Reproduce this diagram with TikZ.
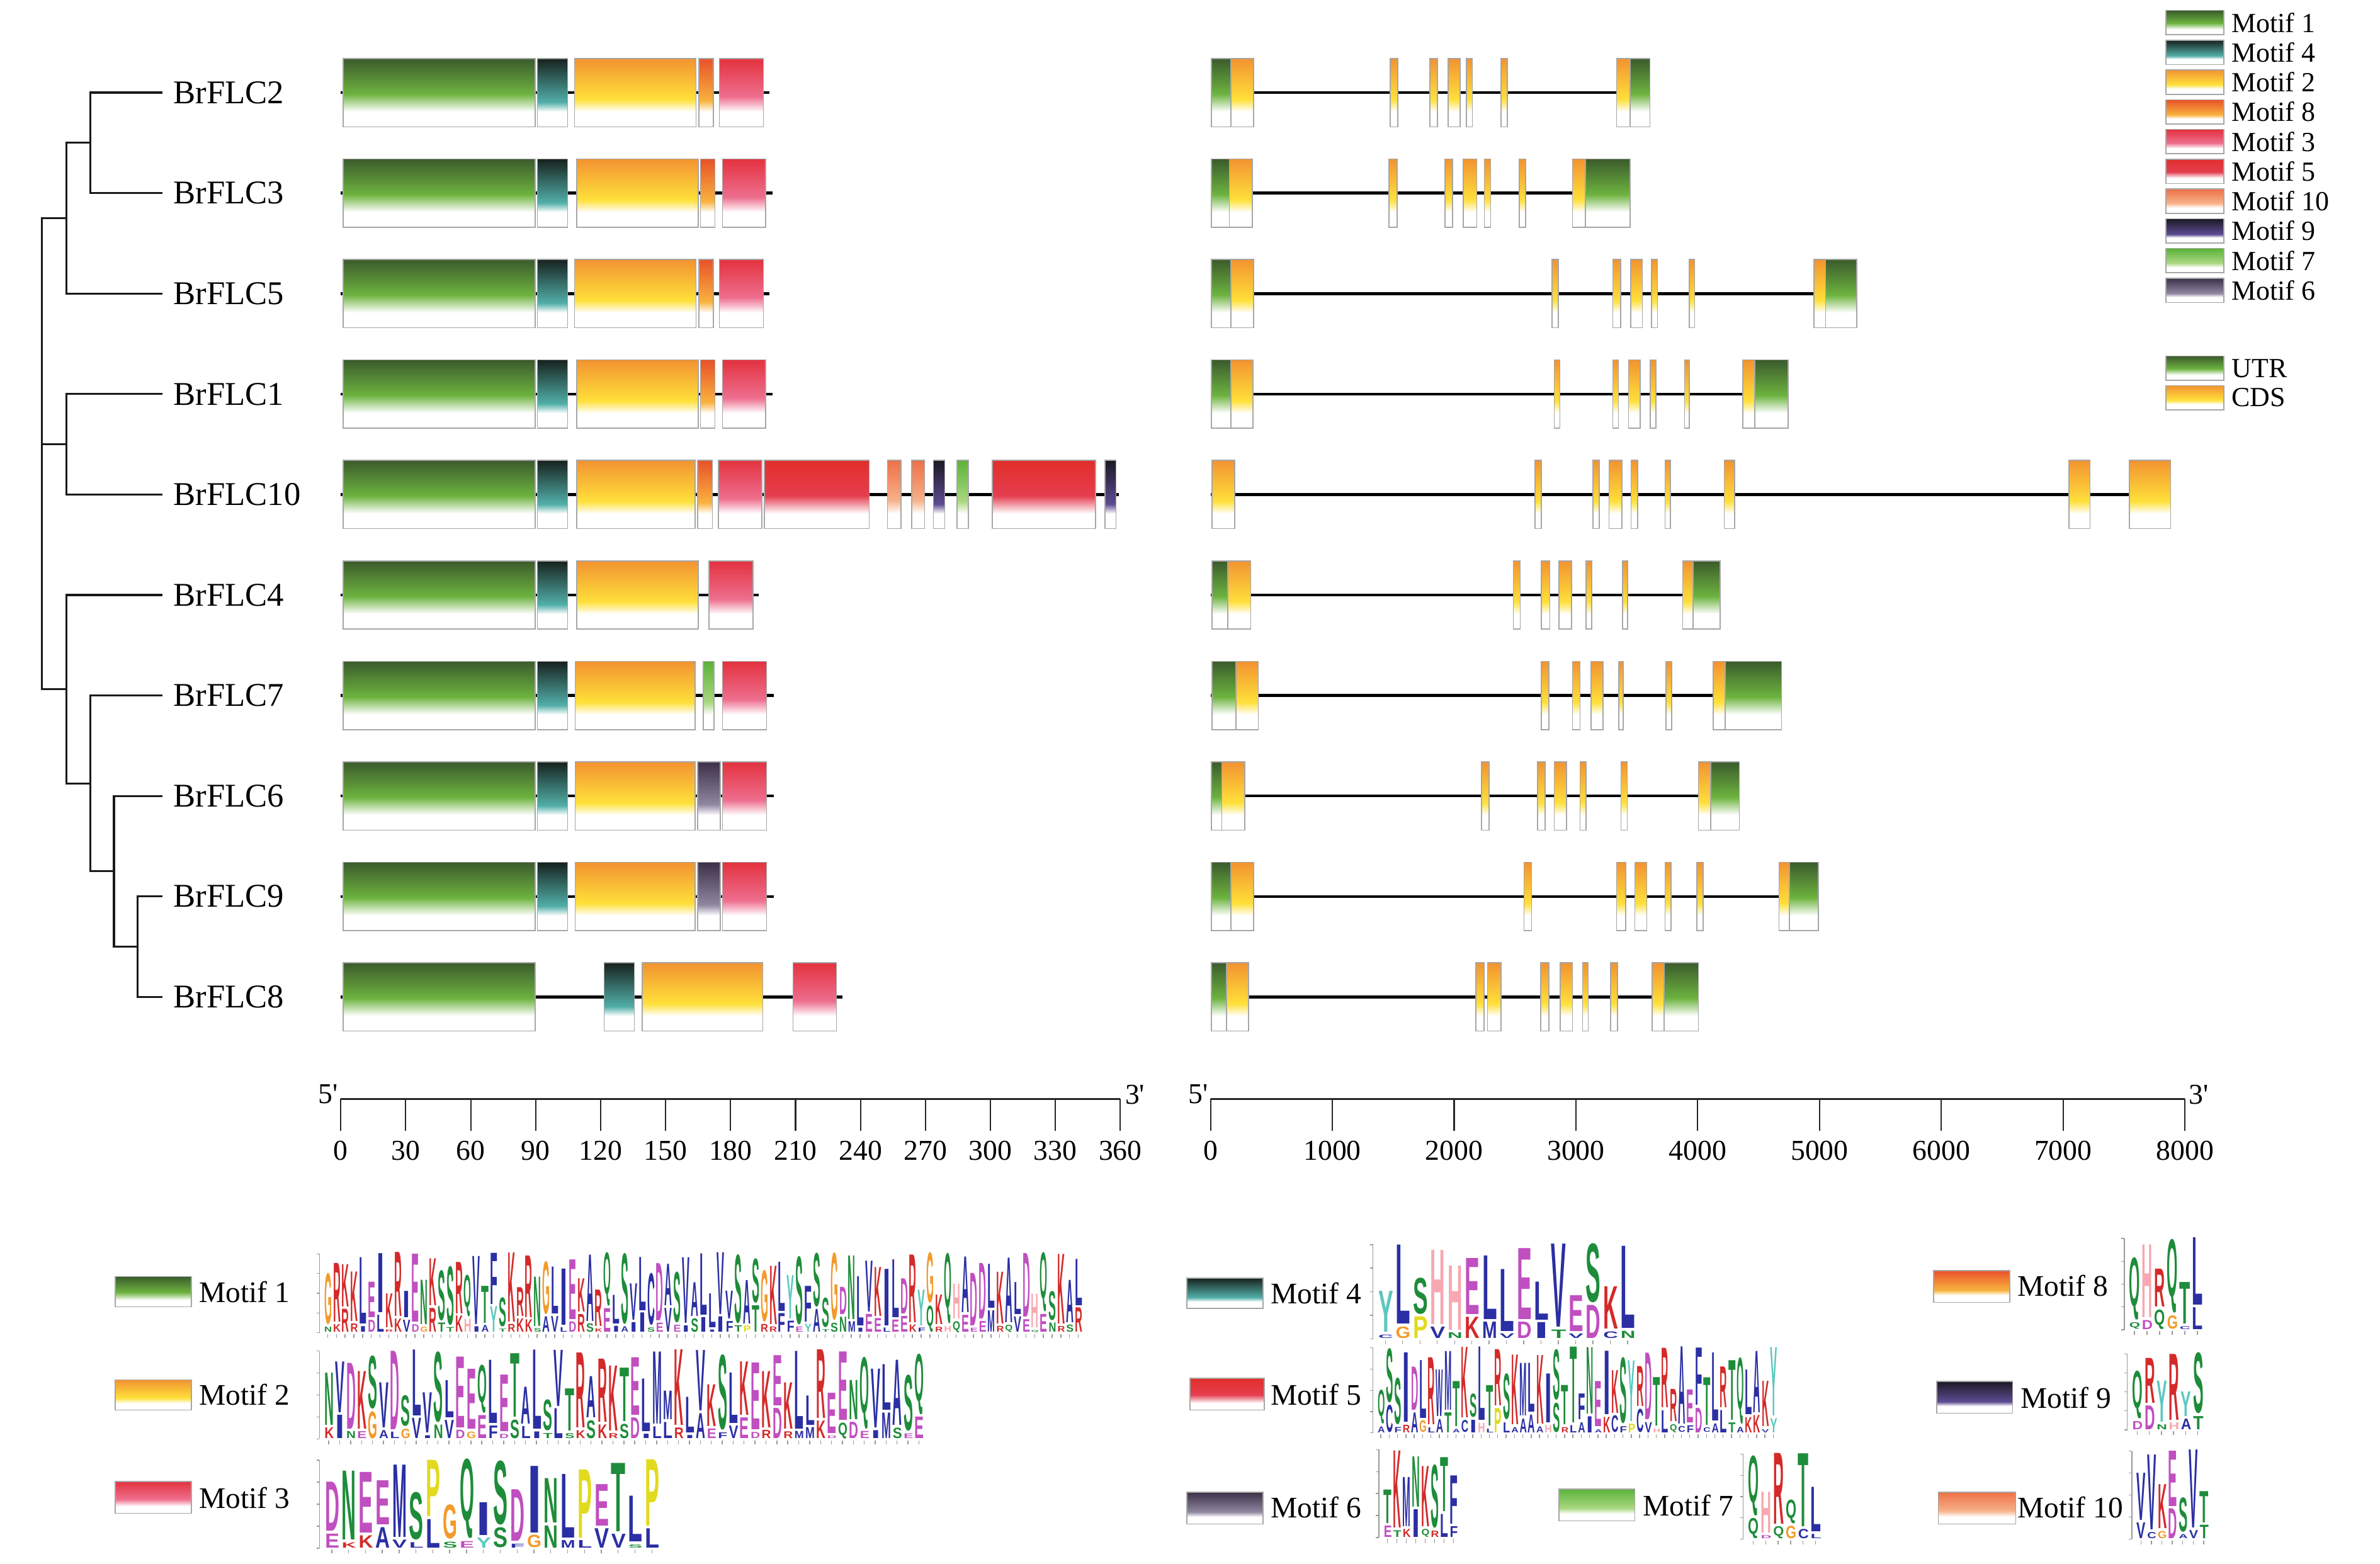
\documentclass[tikz,border=0pt]{standalone}
\usepackage{fontspec}
\setmainfont{Liberation Serif}
\newfontfamily\logofont{Liberation Sans}
\usepackage{graphicx}
\usepackage{tikz}

% motif colours (top / middle of the fade)
\definecolor{m1top}{HTML}{3B5B2C}\definecolor{m1mid}{HTML}{6DB33F}
\definecolor{m4top}{HTML}{17221E}\definecolor{m4mid}{HTML}{52AEA8}
\definecolor{m2top}{HTML}{F29331}\definecolor{m2mid}{HTML}{FFE03A}
\definecolor{m8top}{HTML}{E8512A}\definecolor{m8mid}{HTML}{F9B23D}
\definecolor{m3top}{HTML}{E3323F}\definecolor{m3mid}{HTML}{EE6E8E}
\definecolor{m5top}{HTML}{E22E2A}\definecolor{m5mid}{HTML}{E53E50}
\definecolor{m10top}{HTML}{EE7047}\definecolor{m10mid}{HTML}{F7B088}
\definecolor{m9top}{HTML}{1C1922}\definecolor{m9mid}{HTML}{5C4C92}
\definecolor{m7top}{HTML}{5BB23A}\definecolor{m7mid}{HTML}{AAD780}
\definecolor{m6top}{HTML}{3D3048}\definecolor{m6mid}{HTML}{8F86A0}

% logo letter colours
\definecolor{lgblue}{HTML}{2B2FA3}\definecolor{lggreen}{HTML}{1E8C3A}
\definecolor{lgmag}{HTML}{C04FC0}\definecolor{lgred}{HTML}{D42A2A}
\definecolor{lgpink}{HTML}{F7A8B0}\definecolor{lgorange}{HTML}{F39A2B}
\definecolor{lgyellow}{HTML}{E2DA1E}\definecolor{lgturq}{HTML}{5CC8BE}
\colorlet{aaA}{lgblue}\colorlet{aaC}{lgblue}\colorlet{aaF}{lgblue}\colorlet{aaI}{lgblue}
\colorlet{aaL}{lgblue}\colorlet{aaM}{lgblue}\colorlet{aaV}{lgblue}\colorlet{aaW}{lgblue}
\colorlet{aaN}{lggreen}\colorlet{aaQ}{lggreen}\colorlet{aaS}{lggreen}\colorlet{aaT}{lggreen}
\colorlet{aaD}{lgmag}\colorlet{aaE}{lgmag}\colorlet{aaK}{lgred}\colorlet{aaR}{lgred}
\colorlet{aaH}{lgpink}\colorlet{aaG}{lgorange}\colorlet{aaP}{lgyellow}\colorlet{aaY}{lgturq}

\newcommand{\motifshading}[4]{\pgfdeclareverticalshading{#1}{100bp}{color(0bp)=(white); color(36bp)=(white); color(#4bp)=(#3); color(75bp)=(#2); color(100bp)=(#2)}}
\motifshading{mot1}{m1top}{m1mid}{49}
\motifshading{mot4}{m4top}{m4mid}{43}
\motifshading{mot2}{m2top}{m2mid}{45}
\motifshading{mot8}{m8top}{m8mid}{44}
\motifshading{mot3}{m3top}{m3mid}{47}
\motifshading{mot5}{m5top}{m5mid}{49}
\motifshading{mot10}{m10top}{m10mid}{46}
\motifshading{mot9}{m9top}{m9mid}{43}
\motifshading{mot7}{m7top}{m7mid}{45}
\motifshading{mot6}{m6top}{m6mid}{44}

\tikzset{
  motifbox/.style={draw=gray!70, line width=0.45pt},
  motif1/.style={motifbox, shading=mot1},
  motif2/.style={motifbox, shading=mot2},
  motif3/.style={motifbox, shading=mot3},
  motif4/.style={motifbox, shading=mot4},
  motif5/.style={motifbox, shading=mot5},
  motif6/.style={motifbox, shading=mot6},
  motif7/.style={motifbox, shading=mot7},
  motif8/.style={motifbox, shading=mot8},
  motif9/.style={motifbox, shading=mot9},
  motif10/.style={motifbox, shading=mot10},
  utr/.style={motif1},
  cds/.style={motif2},
  backbone/.style={line width=1.3pt, black},
  treeline/.style={line width=0.9pt, black!90},
  axisline/.style={line width=1pt, black!85},
  tickline/.style={line width=0.6pt, black!85},
  logoaxis/.style={line width=0.4pt, gray!80},
  genelabel/.style={font=\fontsize{15}{18}\selectfont, inner sep=0pt, anchor=west},
  ticklabel/.style={font=\fontsize{13}{15}\selectfont, inner sep=0pt},
  legtext/.style={font=\fontsize{12.5}{14}\selectfont, inner sep=0pt, anchor=west},
  motiflabel/.style={font=\fontsize{13.5}{16}\selectfont, inner sep=0pt, anchor=west},
}

% one box of a row: row y, from x, to x, style
\newcommand{\seg}[4]{\draw[#4] (#2,#1-22.5) rectangle (#3,#1+22.5);}

% sequence logo: x, baseline, column width, height, top/bottom letters
\newcommand{\seqlogo}[5]{%
  \draw[logoaxis] (#1-2.5,#2) -- (#1-2.5,#2-#4);
  \foreach \tk in {0,0.25,0.5,0.75,1} \draw[logoaxis] (#1-2.5,#2-#4*\tk) -- ++(-2,0);
  \foreach \lt/\lb [count=\lk from 0] in {#5} {%
    \pgfmathsetmacro{\lgtot}{#4*(0.42+0.58*abs(sin(\lk*97.3+#1)))}%
    \pgfmathsetmacro{\lgfr}{0.62+0.3*abs(cos(\lk*53.7+#2))}%
    \pgfmathsetlengthmacro{\lgw}{0.86*#3*0.024107cm}%
    \pgfmathsetlengthmacro{\lgtop}{(\lgtot*\lgfr-0.6)*0.024107cm}%
    \pgfmathsetlengthmacro{\lgbot}{(\lgtot*(1-\lgfr)-0.6)*0.024107cm}%
    \node[inner sep=0pt, anchor=south west, text=aa\lb] (lb) at ({#1+(\lk+0.07)*#3},#2) {\resizebox*{\lgw}{\lgbot}{\logofont\bfseries\lb}};
    \node[inner sep=0pt, anchor=south west, text=aa\lt, yshift=0.8pt] at (lb.north west) {\resizebox*{\lgw}{\lgtop}{\logofont\bfseries\lt}};
    \draw[logoaxis] ({#1+(\lk+0.5)*#3},#2+1) -- ++(0,2.5);
  }%
}

\begin{document}
\begin{tikzpicture}[x=0.024107cm, y=-0.024107cm]
\useasboundingbox (0,0) rectangle (1568,1030);

% tree
\foreach \g/\i in {2/0,3/1,5/2,1/3,10/4,4/5,7/6,6/7,9/8,8/9} {
  \coordinate (t\g) at (107,61+66.2*\i);
  \node[genelabel] (lab\g) at (114,61+66.2*\i) {BrFLC\g};
}
\coordinate (n23)  at (59.5,94.1);
\coordinate (n235) at (43.6,143.75);
\coordinate (n110) at (43.6,292.7);
\coordinate (n98)  at (90.8,623.7);
\coordinate (n698) at (75.1,574.05);
\coordinate (n7)   at (59.5,516.1);
\coordinate (n4)   at (43.6,454.1);
\coordinate (root) at (27.7,292.7);
\draw[treeline] (n23) |- (t2) (n23) |- (t3);
\draw[treeline] (n235) |- (n23) (n235) |- (t5);
\draw[treeline] (n110) |- (t1) (n110) |- (t10);
\draw[treeline] (n98) |- (t9) (n98) |- (t8);
\draw[treeline] (n698) |- (t6) (n698) |- (n98);
\draw[treeline] (n7) |- (t7) (n7) |- (n698);
\draw[treeline] (n4) |- (t4) (n4) |- (n7);
\draw[treeline] (root) |- (n235) (root) |- (n110) (root) |- (n4);

% protein motifs
\draw[backbone] (224.5,61) -- (507,61);          %BrFLC2
\seg{61}{226}{352.5}{motif1} \seg{61}{354}{374}{motif4} \seg{61}{378.5}{458.5}{motif2}
\seg{61}{460.5}{470}{motif8} \seg{61}{474}{503}{motif3}
\draw[backbone] (224.5,127.2) -- (509,127.2);    %BrFLC3
\seg{127.2}{226}{352.5}{motif1} \seg{127.2}{354}{374}{motif4} \seg{127.2}{380}{460}{motif2}
\seg{127.2}{461.5}{471}{motif8} \seg{127.2}{476}{504.5}{motif3}
\draw[backbone] (224.5,193.4) -- (507,193.4);    %BrFLC5
\seg{193.4}{226}{352.5}{motif1} \seg{193.4}{354}{374}{motif4} \seg{193.4}{378.5}{458.5}{motif2}
\seg{193.4}{460.5}{470}{motif8} \seg{193.4}{474}{503}{motif3}
\draw[backbone] (224.5,259.6) -- (509,259.6);    %BrFLC1
\seg{259.6}{226}{352.5}{motif1} \seg{259.6}{354}{374}{motif4} \seg{259.6}{380}{460}{motif2}
\seg{259.6}{461.5}{471}{motif8} \seg{259.6}{476}{504.5}{motif3}
\draw[backbone] (224.5,325.8) -- (737,325.8);    %BrFLC10
\seg{325.8}{226}{352.5}{motif1} \seg{325.8}{354}{374}{motif4} \seg{325.8}{380}{458}{motif2}
\seg{325.8}{459.6}{469.3}{motif8} \seg{325.8}{473.4}{502}{motif3} \seg{325.8}{503.7}{572.6}{motif5}
\seg{325.8}{584.6}{593.6}{motif10} \seg{325.8}{600.6}{609.2}{motif10} \seg{325.8}{615}{622.4}{motif9}
\seg{325.8}{630.5}{638}{motif7} \seg{325.8}{653.7}{721.8}{motif5} \seg{325.8}{727.9}{735.3}{motif9}
\draw[backbone] (224.5,392) -- (500,392);        %BrFLC4
\seg{392}{226}{352.5}{motif1} \seg{392}{354}{374}{motif4} \seg{392}{380}{460}{motif2}
\seg{392}{467}{496}{motif3}
\draw[backbone] (224.5,458.2) -- (510,458.2);    %BrFLC7
\seg{458.2}{226}{352.5}{motif1} \seg{458.2}{354}{374}{motif4} \seg{458.2}{379}{458}{motif2}
\seg{458.2}{463.4}{470.5}{motif7} \seg{458.2}{476}{505}{motif3}
\draw[backbone] (224.5,524.4) -- (510,524.4);    %BrFLC6
\seg{524.4}{226}{352.5}{motif1} \seg{524.4}{354}{374}{motif4} \seg{524.4}{379}{458}{motif2}
\seg{524.4}{459.5}{474.5}{motif6} \seg{524.4}{476}{505}{motif3}
\draw[backbone] (224.5,590.6) -- (510,590.6);    %BrFLC9
\seg{590.6}{226}{352.5}{motif1} \seg{590.6}{354}{374}{motif4} \seg{590.6}{379}{458}{motif2}
\seg{590.6}{459.5}{474.5}{motif6} \seg{590.6}{476}{505}{motif3}
\draw[backbone] (224.5,656.8) -- (555,656.8);    %BrFLC8
\seg{656.8}{226}{352.5}{motif1} \seg{656.8}{398}{418}{motif4} \seg{656.8}{423}{502.5}{motif2}
\seg{656.8}{522.5}{551}{motif3}

% gene structures
\draw[backbone] (797.5,61) -- (1087,61);         %BrFLC2
\seg{61}{798}{811}{utr} \seg{61}{811}{826}{cds} \seg{61}{916}{921}{cds} \seg{61}{942}{947}{cds}
\seg{61}{954}{962}{cds} \seg{61}{966}{970}{cds} \seg{61}{989}{993}{cds}
\seg{61}{1065}{1074}{cds} \seg{61}{1074}{1087}{utr}
\draw[backbone] (797.5,127.2) -- (1074,127.2);   %BrFLC3
\seg{127.2}{798}{810}{utr} \seg{127.2}{810}{825}{cds} \seg{127.2}{915}{920.5}{cds} \seg{127.2}{952}{957}{cds}
\seg{127.2}{964}{973}{cds} \seg{127.2}{978}{982}{cds} \seg{127.2}{1001}{1005}{cds}
\seg{127.2}{1036}{1044.5}{cds} \seg{127.2}{1044.5}{1074}{utr}
\draw[backbone] (797.5,193.4) -- (1223.3,193.4); %BrFLC5
\seg{193.4}{798}{811}{utr} \seg{193.4}{811}{826}{cds} \seg{193.4}{1022.6}{1026.7}{cds} \seg{193.4}{1062.6}{1067.7}{cds}
\seg{193.4}{1074.4}{1082}{cds} \seg{193.4}{1088}{1092}{cds} \seg{193.4}{1113}{1116.5}{cds}
\seg{193.4}{1195}{1202.8}{cds} \seg{193.4}{1202.8}{1223.3}{utr}
\draw[backbone] (797.5,259.6) -- (1178,259.6);   %BrFLC1
\seg{259.6}{798}{811}{utr} \seg{259.6}{811}{825.4}{cds} \seg{259.6}{1024}{1027.7}{cds} \seg{259.6}{1062.6}{1066.2}{cds}
\seg{259.6}{1072.9}{1080.6}{cds} \seg{259.6}{1087.3}{1090.9}{cds} \seg{259.6}{1109.8}{1112.9}{cds}
\seg{259.6}{1148.3}{1156}{cds} \seg{259.6}{1156}{1178}{utr}
\draw[backbone] (797.5,325.8) -- (1430,325.8);   %BrFLC10
\seg{325.8}{798.5}{813.4}{cds} \seg{325.8}{1011.2}{1015.5}{cds} \seg{325.8}{1049.5}{1053.7}{cds}
\seg{325.8}{1060}{1068.5}{cds} \seg{325.8}{1074.6}{1078.9}{cds} \seg{325.8}{1097}{1100.5}{cds}
\seg{325.8}{1136}{1142.7}{cds} \seg{325.8}{1363}{1377}{cds} \seg{325.8}{1403}{1430}{cds}
\draw[backbone] (797.5,392) -- (1133.3,392);     %BrFLC4
\seg{392}{798.5}{809}{utr} \seg{392}{809}{824}{cds} \seg{392}{997}{1001.5}{cds} \seg{392}{1015.5}{1021}{cds}
\seg{392}{1027}{1035.4}{cds} \seg{392}{1045}{1048.6}{cds} \seg{392}{1069}{1072.4}{cds}
\seg{392}{1108.6}{1115.4}{cds} \seg{392}{1115.4}{1133.3}{utr}
\draw[backbone] (797.5,458.2) -- (1173.7,458.2); %BrFLC7
\seg{458.2}{798.5}{814.2}{utr} \seg{458.2}{814.2}{829}{cds} \seg{458.2}{1015.5}{1020.5}{cds} \seg{458.2}{1036}{1041}{cds}
\seg{458.2}{1048.3}{1056}{cds} \seg{458.2}{1066.5}{1069.4}{cds} \seg{458.2}{1097.6}{1101.4}{cds}
\seg{458.2}{1128.6}{1136.7}{cds} \seg{458.2}{1136.7}{1173.7}{utr}
\draw[backbone] (797.5,524.4) -- (1146,524.4);   %BrFLC6
\seg{524.4}{798}{805}{utr} \seg{524.4}{805}{820}{cds} \seg{524.4}{976}{981}{cds} \seg{524.4}{1013}{1018}{cds}
\seg{524.4}{1024}{1032}{cds} \seg{524.4}{1041}{1045}{cds} \seg{524.4}{1068}{1072}{cds}
\seg{524.4}{1119}{1127}{cds} \seg{524.4}{1127}{1146}{utr}
\draw[backbone] (797.5,590.6) -- (1198,590.6);   %BrFLC9
\seg{590.6}{798}{811}{utr} \seg{590.6}{811}{826}{cds} \seg{590.6}{1004}{1009}{cds} \seg{590.6}{1065}{1071}{cds}
\seg{590.6}{1077}{1085}{cds} \seg{590.6}{1097}{1101}{cds} \seg{590.6}{1118}{1122}{cds}
\seg{590.6}{1172}{1179}{cds} \seg{590.6}{1179}{1198}{utr}
\draw[backbone] (797.5,656.8) -- (1119,656.8);   %BrFLC8
\seg{656.8}{798}{808}{utr} \seg{656.8}{808}{822.6}{cds} \seg{656.8}{972.2}{977.6}{cds} \seg{656.8}{980}{989}{cds}
\seg{656.8}{1015}{1020.5}{cds} \seg{656.8}{1028}{1036}{cds} \seg{656.8}{1042.7}{1046.3}{cds}
\seg{656.8}{1061}{1065.7}{cds} \seg{656.8}{1088.4}{1096.4}{cds} \seg{656.8}{1096.4}{1119}{utr}

% scales
\draw[axisline] (224.5,724) -- (738.1,724);
\foreach \v in {0,30,...,360} {
  \draw[tickline] ({224.5+1.4267*\v},724) -- ++(0,21);
  \node[ticklabel] at ({224.5+1.4267*\v},758) {\v};
}
\node[ticklabel, anchor=east] at (223,721) {5\textquotesingle};
\node[ticklabel, anchor=west] at (741,721) {3\textquotesingle};
\draw[axisline] (797.5,724) -- (1439.5,724);
\foreach \k in {0,...,8} {
  \draw[tickline] ({797.5+80.25*\k},724) -- ++(0,21);
  \pgfmathtruncatemacro{\lab}{1000*\k}
  \node[ticklabel] at ({797.5+80.25*\k},758) {\lab};
}
\node[ticklabel, anchor=east] at (796,721) {5\textquotesingle};
\node[ticklabel, anchor=west] at (1442,721) {3\textquotesingle};

% legend
\foreach \m [count=\lk from 0] in {1,4,2,8,3,5,10,9,7,6} {
  \draw[motif\m] (1427,{6.9+19.6*\lk}) rectangle ++(38,16);
  \node[legtext] at (1470,{14.9+19.6*\lk}) {Motif \m};
}
\draw[utr] (1427,234.6) rectangle ++(38,16);
\node[legtext] at (1470,242.6) {UTR};
\draw[cds] (1427,254) rectangle ++(38,16);
\node[legtext] at (1470,262) {CDS};

% motif logos
\draw[motif1] (76,841) rectangle (126,861);    \node[motiflabel] at (131,851) {Motif 1};
\draw[motif2] (76,909) rectangle (126,929);    \node[motiflabel] at (131,919) {Motif 2};
\draw[motif3] (76,976) rectangle (126,997);    \node[motiflabel] at (131,987) {Motif 3};
\draw[motif4] (782,842) rectangle (832,862);   \node[motiflabel] at (837,852) {Motif 4};
\draw[motif5] (784,908) rectangle (833,929);   \node[motiflabel] at (837,919) {Motif 5};
\draw[motif6] (782,983) rectangle (832,1004);  \node[motiflabel] at (837,993) {Motif 6};
\draw[motif7] (1027,981) rectangle (1077,1002);\node[motiflabel] at (1082,992) {Motif 7};
\draw[motif8] (1274,837) rectangle (1324,858); \node[motiflabel] at (1329,847) {Motif 8};
\draw[motif9] (1276,910) rectangle (1326,931); \node[motiflabel] at (1331,921) {Motif 9};
\draw[motif10] (1277,983) rectangle (1328,1004);\node[motiflabel] at (1329,993) {Motif 10};

\seqlogo{213}{878}{5.75}{52}{G/N, R/K, K/R, K/R, L/I, E/D, I/L, K/R, R/K, I/V, E/D, N/G, K/R, S/T, S/T,
  R/K, Q/H, V/I, T/A, F/Y, S/T, K/R, R/K, R/K, N/S, G/A, L/V, I/L, E/D, K/R, A/S, R/K, Q/E, L/I,
  S/A, V/I, L/I, C/S, D/E, A/V, S/E, V/I, A/S, L/I, L/I, V/I, V/F, S/T, A/P, S/T, G/R, K/R, L/F,
  Y/F, S/E, F/Y, S/A, S/T, G/S, D/N, N/M, L/I, V/E, K/E, I/L, L/E, D/E, R/K, Y/F, G/Q, K/R, Q/H,
  H/Q, A/E, D/E, D/E, L/M, K/R, A/Q, L/V, D/E, H/Q, Q/E, S/N, K/R, A/S, L/R}
\seqlogo{213}{948}{7.2}{58}{N/K, V/I, D/N, K/E, S/G, V/A, D/L, S/G, L/V, V/I, S/N, L/V, E/D, E/G,
  Q/E, L/F, E/D, T/S, A/L, L/I, S/T, V/L, T/S, R/K, A/S, R/K, K/R, T/S, E/D, L/I, M/L, M/L, K/R,
  L/I, V/A, K/E, S/F, L/V, K/E, E/D, K/R, E/D, K/R, L/M, L/M, R/K, E/D, E/Q, N/D, Q/E, V/I, L/M,
  A/S, S/E, Q/E}
\seqlogo{213}{1020}{11.1}{58}{D/E, N/K, E/K, E/A, M/V, S/L, P/L, G/S, Q/E, I/Y, S/S, D/F, I/G,
  N/N, L/M, P/L, E/V, T/V, L/S, P/L}
\seqlogo{907}{882}{11.4}{62}{Y/C, L/G, S/P, H/V, H/N, E/K, L/M, L/V, E/D, L/I, V/T, E/V, S/D,
  K/C, L/N}
\seqlogo{907}{944}{5.5}{56}{Q/A, S/C, S/F, I/R, D/A, L/G, R/L, W/A, M/T, T/A, K/C, S/I, L/H, T/L,
  R/P, S/L, K/A, M/A, L/A, K/A, I/H, S/S, T/R, T/L, F/A, N/I, E/A, I/K, K/C, S/F, Y/P, R/C, D/V,
  T/H, R/L, R/Q, A/C, E/F, F/D, T/C, L/A, R/L, T/T, Q/A, L/K, A/K, K/V, Y/Y}
\seqlogo{911}{1013}{6.2}{58}{T/E, K/T, M/K, N/I, K/Q, S/R, T/L, F/F}
\seqlogo{1151}{1014}{8.2}{56}{Q/Q, H/D, R/Q, Q/G, T/C, L/L}
\seqlogo{1402}{876}{8.3}{60}{Q/Q, H/D, R/Q, Q/G, T/C, L/L}
\seqlogo{1404}{942}{8}{50}{Q/D, R/D, Y/N, R/H, Y/A, S/T}
\seqlogo{1407}{1014}{6.9}{58}{V/V, V/C, K/G, E/D, S/A, V/V, T/T}
\end{tikzpicture}
\end{document}
